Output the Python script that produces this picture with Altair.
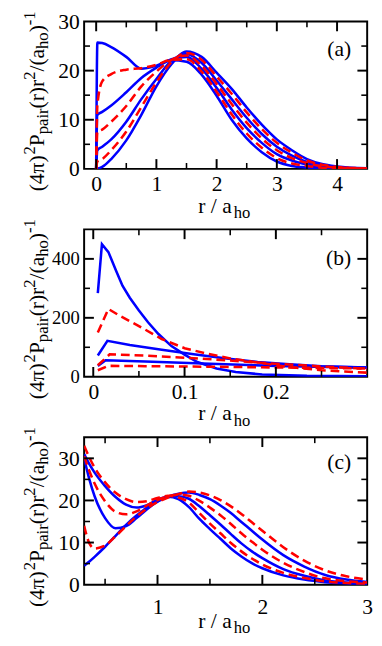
import altair as alt
import pandas as pd

SERIF = "Times New Roman, Liberation Serif, serif"
BLUE = "#0000ff"
RED = "#ff0000"
W, H = 290, 151

# ---------------- panel (a) ----------------
A_R = [0, 0.02, 0.1, 0.25, 0.5, 0.75, 1.0, 1.25, 1.5, 1.75, 2.0, 2.25, 2.5, 2.75, 3.0, 3.25, 3.5, 3.75, 4.0, 4.5]
A_BLUE1 = [0, 25.7, 25.6, 24.8, 22.8, 20.4, 21.0, 22.1, 21.8, 19.2, 14.9, 10.0, 6.2, 3.4, 1.5, 0.6, 0.3, 0.1, 0.05, 0.0]
A_RED1 = [0, 13.0, 17.8, 19.3, 20.2, 20.5, 21.2, 22.2, 22.3, 19.8, 15.7, 11.1, 7.2, 4.3, 2.2, 1.1, 0.6, 0.25, 0.1, 0.02]
A_BLUE2 = [0, 11.0, 11.6, 12.9, 15.6, 18.5, 20.6, 22.3, 22.8, 20.4, 16.5, 12.1, 8.3, 5.3, 3.0, 1.7, 0.9, 0.4, 0.2, 0.03]
A_RED2 = [0, 7.5, 8.0, 9.6, 12.8, 16.8, 19.8, 22.2, 23.1, 21.0, 17.3, 13.2, 9.4, 6.2, 3.8, 2.2, 1.2, 0.55, 0.3, 0.05]
A_BLUE3 = [0, 3.8, 4.5, 6.0, 9.6, 14.2, 18.3, 22.0, 23.4, 21.6, 18.0, 14.2, 10.4, 7.1, 4.5, 2.7, 1.4, 0.7, 0.35, 0.07]
A_RED3 = [0, 1.5, 2.0, 3.8, 7.6, 12.6, 17.6, 21.7, 23.6, 22.2, 18.8, 15.3, 11.5, 8.1, 5.3, 3.3, 1.7, 0.85, 0.4, 0.08]
A_BLUE4 = [0, 0.05, 0.4, 2.0, 5.8, 11.0, 16.8, 21.3, 23.9, 22.8, 19.6, 16.3, 12.5, 9.0, 6.0, 3.8, 2.0, 1.0, 0.5, 0.1]

# ---------------- panel (b) ----------------
B_BLUE1_X = [0.005, 0.0095, 0.0166, 0.025, 0.032, 0.04, 0.05, 0.06, 0.0714, 0.0856, 0.1, 0.114, 0.135, 0.156, 0.185, 0.234, 0.3]
B_BLUE1 = [284, 450, 423, 360, 309, 268, 225, 185, 145, 104, 75, 50, 28, 16, 8, 3.5, 2]
B_RED1_X = [0.005, 0.0166, 0.03, 0.05, 0.075, 0.1, 0.125, 0.15, 0.18, 0.215, 0.25, 0.3]
B_RED1 = [150, 230, 205, 172, 128, 97, 78, 62, 48, 33, 22, 14]
B_BLUE2_X = [0.005, 0.0155, 0.04, 0.075, 0.11, 0.146, 0.18, 0.215, 0.25, 0.3]
B_BLUE2 = [72, 122, 108, 92, 76, 62, 50, 42, 36, 31]
B_RED2_X = [0.005, 0.018, 0.057, 0.11, 0.146, 0.2, 0.25, 0.3]
B_RED2 = [39, 76, 72, 63, 56, 44, 35, 27]
B_BLUE3_X = [0.005, 0.0136, 0.057, 0.128, 0.2, 0.3]
B_BLUE3 = [37, 56, 52, 44, 37, 31]
B_RED3_X = [0.005, 0.0166, 0.057, 0.16, 0.3]
B_RED3 = [22, 37, 36, 33, 28]

# ---------------- panel (c) ----------------
C_R = [0.3, 0.35, 0.4, 0.5, 0.6, 0.7, 0.8, 0.9, 1.0, 1.1, 1.2, 1.3, 1.4, 1.5, 1.6, 1.7, 1.8, 1.9, 2.0, 2.2, 2.4, 2.6, 2.8, 3.0]
C_BLUE_A = [31.0, 28.6, 26.6, 23.4, 20.8, 19.0, 18.3, 18.9, 20.2, 20.9, 20.3, 18.4, 15.6, 13.2, 10.9, 8.6, 6.7, 5.1, 3.9, 2.2, 1.2, 0.6, 0.25, 0.1]
C_RED_A = [33.0, 30.2, 27.8, 24.3, 21.8, 20.3, 19.6, 19.8, 20.6, 21.1, 20.7, 19.5, 17.0, 14.5, 12.2, 9.9, 7.9, 6.2, 4.8, 2.8, 1.6, 0.8, 0.4, 0.2]
C_BLUE_B = [30.0, 25.0, 21.0, 15.8, 13.4, 13.9, 15.8, 17.9, 19.7, 20.8, 21.0, 20.4, 18.6, 16.5, 14.3, 12.0, 9.8, 7.9, 6.3, 3.7, 2.1, 1.0, 0.5, 0.3]
C_RED_B = [30.5, 27.0, 24.0, 19.8, 17.3, 16.7, 17.4, 18.8, 20.1, 21.0, 21.4, 21.1, 19.9, 18.3, 16.5, 14.4, 12.2, 10.2, 8.3, 5.2, 3.0, 1.5, 0.8, 0.5]
C_BLUE_C = [4.5, 5.5, 6.6, 9.0, 11.6, 14.2, 16.4, 18.3, 19.8, 20.9, 21.6, 21.9, 21.3, 20.3, 18.8, 17.0, 14.9, 12.8, 10.7, 7.0, 4.3, 2.3, 1.2, 0.6]
C_RED_C = [14.0, 9.8, 8.6, 9.3, 11.5, 13.9, 16.2, 18.1, 19.6, 20.7, 21.5, 22.1, 21.9, 21.2, 20.1, 18.6, 16.8, 14.8, 12.8, 8.9, 5.7, 3.4, 2.0, 1.2]


def long_df(curves):
    rows = []
    for i, (kind, xs, vs) in enumerate(curves):
        for x, v in zip(xs, vs):
            rows.append({"r": x, "v": v, "series": f"s{i}", "kind": kind})
    return pd.DataFrame(rows)


DF_A = long_df([("blue", A_R, A_BLUE1), ("red", A_R, A_RED1), ("blue", A_R, A_BLUE2),
                ("red", A_R, A_RED2), ("blue", A_R, A_BLUE3), ("red", A_R, A_RED3),
                ("blue", A_R, A_BLUE4)])
DF_B = long_df([("blue", B_BLUE1_X, B_BLUE1), ("red", B_RED1_X, B_RED1),
                ("blue", B_BLUE2_X, B_BLUE2), ("red", B_RED2_X, B_RED2),
                ("blue", B_BLUE3_X, B_BLUE3), ("red", B_RED3_X, B_RED3)])
DF_C = long_df([("blue", C_R, C_BLUE_A), ("red", C_R, C_RED_A), ("blue", C_R, C_BLUE_B),
                ("red", C_R, C_RED_B), ("blue", C_R, C_BLUE_C), ("red", C_R, C_RED_C)])

CHARW = {"(": 0.333, ")": 0.333, "4": 0.5, "π": 0.549, "2": 0.5, "P": 0.556, "p": 0.5,
         "a": 0.444, "i": 0.278, "r": 0.333, "/": 0.278, "h": 0.5, "o": 0.5, "-": 0.333,
         "1": 0.5, " ": 0.25}


def textw(s, size):
    return sum(CHARW.get(c, 0.5) for c in s) * size


def txt(s, x, y, size, angle=0, align="left"):
    return alt.Chart(pd.DataFrame({"t": [s]})).mark_text(
        align=align, baseline="alphabetic", font=SERIF, fontSize=size, color="black",
        angle=angle).encode(x=alt.value(x), y=alt.value(y), text="t:N")


def ytitle_layers():
    main, small = 22, 17
    pieces = [("(4π)", main, 0), ("2", small, -9), ("P", main, 0), ("pair", small, 4),
              ("(r)r", main, 0), ("2", small, -9), ("/(a", main, 0), ("ho", small, 4),
              (")", main, 0), ("-1", small, -9)]
    y = 174
    out = []
    for s, size, shift in pieces:
        out.append(txt(s, -41 + shift, y, size, angle=270))
        y -= textw(s, size)
    return out


def make_panel(df, xdom, ydom, xlab, ylab, xmaj, xmin, ymaj, ymin, tag, tag_y, interp,
               xfmt, xpad, ysize=22):
    xs = alt.Scale(domain=xdom, nice=False, zero=False)
    ys = alt.Scale(domain=ydom, nice=False, zero=False)
    axis_common = dict(ticks=False, domain=False, grid=False, title=None, labelFont=SERIF,
                       labelColor="black", labelOverlap=False, labelFlush=False)
    xaxis = alt.Axis(values=xlab, format=xfmt, labelPadding=xpad, labelFontSize=22,
                     **axis_common)
    yaxis = alt.Axis(values=ylab, labelPadding=5, labelFontSize=ysize, **axis_common)
    layers = []
    for kind, color, dash in [("blue", BLUE, None), ("red", RED, [9, 5])]:
        mk = dict(color=color, strokeWidth=2.6, interpolate=interp, clip=True)
        if dash:
            mk["strokeDash"] = dash
        layers.append(alt.Chart(df).transform_filter(alt.datum.kind == kind).mark_line(**mk).encode(
            x=alt.X("r:Q", scale=xs, axis=xaxis),
            y=alt.Y("v:Q", scale=ys, axis=yaxis),
            detail="series:N"))
    for vals, L, sw in [(xmaj, 10, 2), (xmin, 6, 1.6)]:
        d = pd.DataFrame({"t": vals})
        for y0, y1 in [(H, H - L), (0, L)]:
            layers.append(alt.Chart(d).mark_rule(color="black", strokeWidth=sw).encode(
                x=alt.X("t:Q", scale=xs, axis=xaxis), y=alt.value(y0), y2=alt.value(y1)))
    for vals, L, sw in [(ymaj, 10, 2), (ymin, 6, 1.6)]:
        d = pd.DataFrame({"t": vals})
        for x0, x1 in [(0, L), (W, W - L)]:
            layers.append(alt.Chart(d).mark_rule(color="black", strokeWidth=sw).encode(
                y=alt.Y("t:Q", scale=ys, axis=yaxis), x=alt.value(x0), x2=alt.value(x1)))
    layers.append(txt(tag, W - 16.5, tag_y, 22, align="right"))
    x0 = 117
    layers.append(txt("r / a", x0, H + 44.7, 22))
    layers.append(txt("ho", x0 + textw("r / a", 22) + 2, H + 50, 17))
    layers.extend(ytitle_layers())
    return alt.layer(*layers).properties(width=W, height=H)


pa = make_panel(DF_A, [-0.2, 4.5], [0, 30], [0, 1, 2, 3, 4], [0, 10, 20, 30],
                [0, 1, 2, 3, 4], [0.5, 1.5, 2.5, 3.5], [10, 20], [5, 15, 25],
                "(a)", 35, "monotone", "~g", 5)
pb = make_panel(DF_B, [-0.01, 0.3], [0, 500], [0, 0.1, 0.2], [0, 200, 400],
                [0, 0.1, 0.2], [0.05, 0.15, 0.25], [200, 400], [100, 300],
                "(b)", 36, "linear", "~g", 5, ysize=19)
pc = make_panel(DF_C, [0.3, 3], [0, 35], [1, 2, 3], [0, 10, 20, 30],
                [1, 2], [0.5, 1.5, 2.5], [10, 20, 30], [5, 15, 25],
                "(c)", 33, "monotone", "~g", 13)

chart = alt.vconcat(pa, pb, pc, spacing=62, bounds="flush").properties(
    padding={"left": 13, "top": -6, "right": 0, "bottom": 0},
).configure_view(stroke="black", strokeWidth=2)

chart.save("out.html", embed_options={"renderer": "svg", "actions": False})
